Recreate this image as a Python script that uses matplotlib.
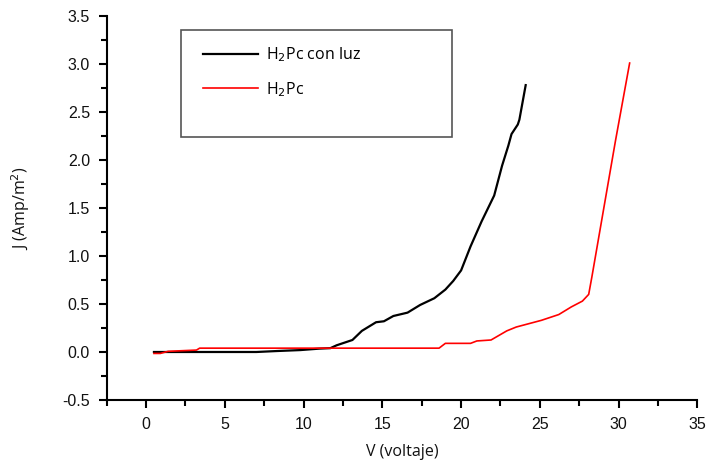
import matplotlib
matplotlib.use("Agg")
import matplotlib.pyplot as plt
from matplotlib.patches import Rectangle
from matplotlib.ticker import MultipleLocator

plt.rcParams["font.family"] = "Liberation Sans"

# H2Pc con luz (black)
v_luz = [0.5, 3.0, 7.0, 8.3, 9.8, 11.0, 11.7, 12.1, 13.1, 13.7, 14.6, 15.1, 15.7,
         16.6, 17.4, 18.3, 19.0, 19.5, 20.0, 20.6, 21.3, 22.1, 22.6, 23.0, 23.2,
         23.6, 23.7, 24.1]
j_luz = [0.0, 0.0, 0.0, 0.01, 0.02, 0.035, 0.04, 0.07, 0.125, 0.22, 0.31, 0.32, 0.375,
         0.41, 0.49, 0.56, 0.65, 0.74, 0.85, 1.10, 1.36, 1.63, 1.94, 2.15, 2.27,
         2.37, 2.42, 2.78]

# H2Pc sin luz (red)
v_osc = [0.5, 0.9, 1.4, 3.2, 3.4, 18.6, 19.0, 20.6, 21.0, 21.9, 22.9, 23.5, 25.1,
         26.2, 27.0, 27.7, 28.1, 28.3, 29.8, 30.7]
j_osc = [-0.015, -0.015, 0.007, 0.02, 0.04, 0.04, 0.09, 0.09, 0.115, 0.125, 0.22, 0.26, 0.33,
         0.39, 0.47, 0.53, 0.60, 0.78, 2.20, 3.01]

fig = plt.figure(figsize=(7.08, 4.65), dpi=100)
ax = fig.add_axes([0.1507, 0.1398, 0.8343, 0.8258])

ax.plot(v_luz, j_luz, color="black", lw=1.6, label="H$_2$Pc con luz")
ax.plot(v_osc, j_osc, color="red", lw=1.2, label="H$_2$Pc")

ax.set_xlim(-2.5, 35)
ax.set_ylim(-0.5, 3.5)
ax.xaxis.set_major_locator(MultipleLocator(5))
ax.xaxis.set_minor_locator(MultipleLocator(2.5))
ax.yaxis.set_major_locator(MultipleLocator(0.5))
ax.yaxis.set_minor_locator(MultipleLocator(0.25))
ax.set_xticks(range(0, 36, 5))
ax.set_xticklabels([str(v) for v in range(0, 36, 5)])
ax.set_yticklabels([f"{v:.1f}" for v in ax.get_yticks()])

for s in ["top", "right"]:
    ax.spines[s].set_visible(False)
for s in ["left", "bottom"]:
    ax.spines[s].set_linewidth(1.5)

ax.tick_params(which="major", direction="out", length=6, width=1.5,
               labelsize=11.5, labelcolor="#111111", pad=6)
ax.tick_params(which="minor", direction="out", length=4, width=1.5)

ax.set_xlabel("V (voltaje)", fontsize=11.5, family="Open Sans", color="#111111", labelpad=9)
ax.set_ylabel("J (Amp/m$^2$)", fontsize=11.5, family="Open Sans", color="#111111", labelpad=22)

# legend box
ax.add_patch(Rectangle((180.7 / 708, 1 - 137.3 / 465), (452.3 - 180.7) / 708, (137.3 - 30) / 465,
                       transform=fig.transFigure, fill=False, edgecolor="#555555", lw=1.2,
                       clip_on=False))
leg = ax.legend(loc="upper left", bbox_to_anchor=(189 / 708, 1 - 31 / 465),
                bbox_transform=fig.transFigure, frameon=False, handlelength=3.4,
                labelspacing=1.0, handletextpad=0.55,
                prop={"family": "Open Sans", "size": 11.5})

fig.savefig("out.png", dpi=100)
